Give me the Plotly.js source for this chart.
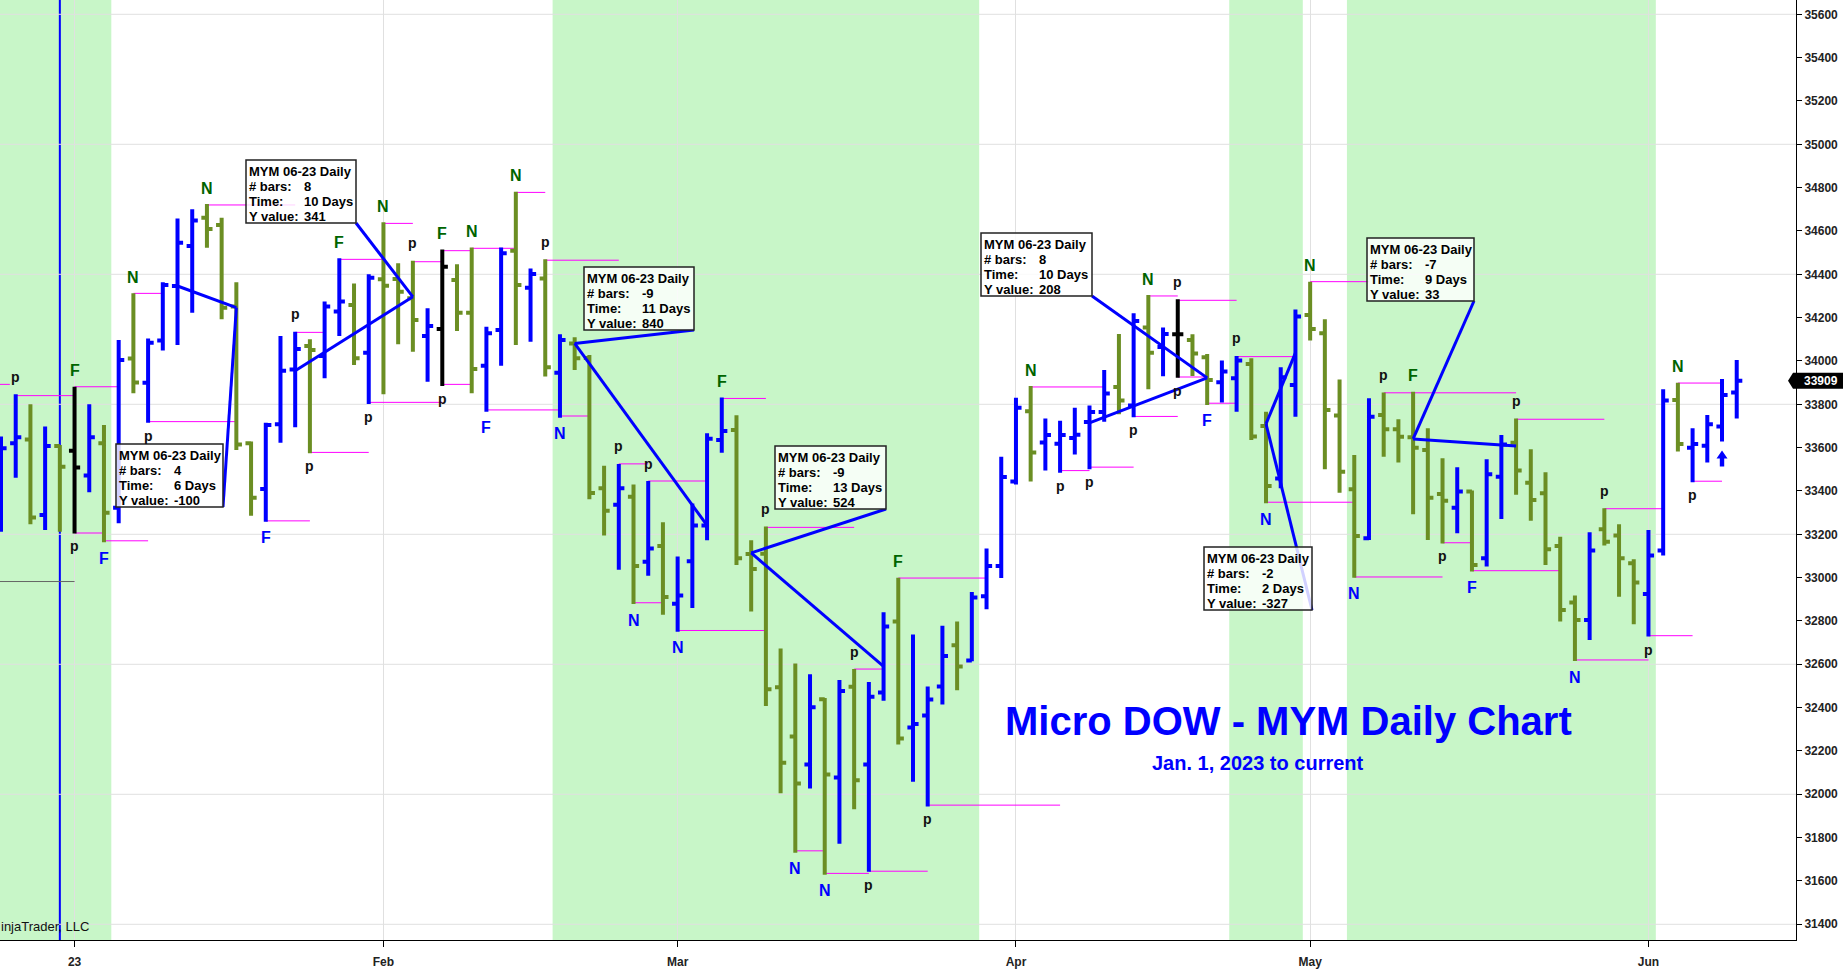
<!DOCTYPE html>
<html><head><meta charset="utf-8">
<script src="https://cdn.plot.ly/plotly-3.0.1.min.js"></script>
<style>html,body{margin:0;padding:0;background:#fff;overflow:hidden}</style>
</head><body><div id="chart" style="width:1848px;height:971px"></div>
<script>
// ---------------- DATA ----------------
// Daily bars, one per weekday (index 0 = 27 Dec 2022, index 5 = 3 Jan 2023)
const barOpen  = [33420,33620,33638,33289,33608,33586,33471,33620,33323,34011,33900,34094,34346,34531,34661,34628,34251,33620,33409,33708,
                  33961,34069,34023,34228,34258,34038,34377,34378,34289,34115,34148,34374,34223,33978,34143,34509,34338,34381,33946,34081,
                  34014,33412,33336,33373,33073,33146,32880,33076,33241,33635,33681,33109,33110,32494,32267,32138,32439,32078,32496,32137,
                  32470,32798,32308,32364,32498,32688,32618,32914,33054,33444,33768,33624,33618,33644,33718,33764,33880,33794,34154,34064,
                  34123,34097,34017,33902,33920,33986,33700,33458,33889,34212,34128,33748,33408,33182,33751,33685,33648,33589,33386,33323,
                  33397,33089,33466,33623,33438,33389,33146,32885,32805,33223,33194,33066,32925,33125,33820,33600,33609,33697,33854];
const barHigh  = [33651,33846,33800,33697,33612,33881,33800,33704,34097,34312,34104,34363,34658,34700,34724,34661,34363,33628,33715,34115,
                  34135,34100,34274,34474,34358,34400,34640,34451,34463,34243,34515,34446,34524,34158,34524,34781,34427,34469,34123,34109,
                  34028,33516,33525,33430,33446,33256,33098,33342,33666,33831,33750,33172,33236,32673,32604,32554,32444,32527,32578,32518,
                  32840,33000,32738,32498,32778,32798,32934,33134,33558,33830,33884,33734,33724,33784,33794,33958,34124,34220,34304,34154,
                  34285,34123,34032,34002,34023,34012,33766,33971,34238,34366,34192,33915,33566,33828,33854,33731,33858,33689,33551,33509,
                  33402,33546,33658,33735,33592,33486,33189,32917,33209,33320,33246,33085,33220,33869,33900,33689,33751,33917,34005];
const barLow   = [33212,33461,33246,33220,33212,33204,33394,33163,33251,33851,33715,34048,34074,34223,34523,34192,33589,33286,33258,33623,
                  33694,33574,33920,34115,33981,33801,33846,34077,34043,33904,33884,34138,33851,33766,33978,34074,34089,33928,33738,33958,
                  33362,33195,33036,32878,33009,32829,32750,32860,33173,33576,33058,32844,32408,32005,31730,32027,31629,31772,31931,31642,
                  32432,32230,32058,31944,32414,32480,32614,32854,32998,33430,33444,33494,33484,33568,33500,33720,33754,33740,33870,33930,
                  33922,33931,33797,33808,33766,33635,33343,33412,33743,34094,33500,33392,33000,33174,33558,33531,33292,33174,33158,33205,
                  33028,33051,33271,33382,33263,33058,32797,32615,32712,33148,32912,32785,32728,33102,33582,33440,33531,33628,33735];
const barClose = [33597,33648,33277,33608,33512,33508,33648,33300,34004,33901,34084,34351,34546,34648,34609,34246,33615,33369,33704,33955,
                  34055,34051,34251,34274,34012,34384,34347,34320,34189,34161,34435,34223,33963,34128,34497,34351,34401,33971,34097,34012,
                  33391,33309,33412,33054,33135,32911,32917,33241,33641,33677,33089,33040,32485,32146,32050,32402,32091,32477,32065,32450,
                  32775,32258,32324,32438,32638,32590,32908,33054,33464,33784,33578,33658,33658,33660,33764,33850,33818,34184,34038,34124,
                  34123,34035,33912,33951,34002,33651,33423,33925,34205,34148,33774,33489,33192,33743,33685,33650,33600,33369,33355,33397,
                  33058,33477,33615,33494,33358,33131,32851,32805,33125,33166,33089,32977,33102,33817,33617,33617,33708,33843,33909];
// paint-bar colour code per bar: B = blue, G = green, K = black
const barPaint = "BBGBGKBGBGBBBBGGGGBBBGBBGBGGGBKGGBBGBGBGGGBGBGBBBBGGGGGBGBGBBGBBBGBBBBGBBBBBGBGBKGGBBGGBBGGGGBGGGGGBGBBGGGGGBGGGBBGBBBB";

// month tick labels
const tickIndex  = [5, 26, 46, 69, 89, 112];
const tickLabels = ['23', 'Feb', 'Mar', 'Apr', 'May', 'Jun'];

// shaded regions (bar index ranges)
const bandStart = [-1, 37.5, 83.5, 91.5];
const bandEnd   = [7.5, 66.5, 88.5, 112.5];

// pivot (magenta) lines: start bar, end bar, price
const pivStart = [-0.1,1,5,5,7,9,10,14,18,20,21,23,25,26,28,30,30,32,33,35,37,38,42,43,44,46,49,52,54,56,58,59,61,63,70,72,74,77,78,80,80,82,84,86,89,92,94,98,100,103,107,109,112,114,115];
const pivEnd   = [0.6,5,8,7,10,11,16,20,21,22,25,26,30,28,30,32,32,35,38,37,42,40,44,45,48,52,52,58,56,59,60,63,67,72,75,74,77,80,80,84,82,84,88,92,93,98,103,100,106,109,112,113,115,117,117];
const pivPrice = [33892,33840,33881,33206,33170,34312,33720,34720,33262,34132,33578,34469,33809,34635,34458,34509,33892,34520,33774,34778,34465,33746,33525,32884,33446,32756,33827,33232,31739,31635,32578,31645,32998,31950,33880,33494,33510,33744,34300,34280,33926,33805,34020,33348,34366,33003,33853,33161,33032,33731,32620,33318,32732,33898,33445];

// swing labels: bar index, text, position (H above high, L below low)
const labelIdx  = [1,5,9,14,20,23,26,28,30,32,35,37,42,44,49,52,58,61,70,78,80,84,89,94,96,103,109,114,
                   5,7,10,18,21,25,30,33,38,43,46,54,56,59,63,72,74,77,80,82,86,92,98,100,107,112,115];
const labelText = ['p','F','N','N','p','F','N','p','F','N','N','p','p','p','F','p','p','F','N','N','p','p','N','p','F','p','p','N',
                   'p','F','p','F','p','p','p','F','N','N','N','N','N','p','p','p','p','p','p','F','N','N','p','F','N','p','p'];
const labelPos  = 'HHHHHHHHHHHHHHHHHHHHHHHHHHHHLLLLLLLLLLLLLLLLLLLLLLLLLLL';

// measurement tools: start bar/price, end bar/price, readouts
const toolStartIdx = [12, 20, 48, 60, 74, 88, 103];
const toolStartVal = [34346, 33955, 33241, 32590, 33714, 34037, 33607];
const toolEndIdx   = [16, 28, 39, 51, 82, 86, 96];
const toolEndVal   = [34246, 34296, 34081, 33114, 33922, 33710, 33640];
const toolBars     = [4, 8, -9, -9, 8, -2, -7];
const toolDays     = [6, 10, 11, 13, 10, 2, 9];
const toolYValue   = [-100, 341, 840, 524, 208, -327, 33];
const instrument   = 'MYM 06-23 Daily';

const signalIdx  = [117];     // long-entry arrow
const refLine    = {start: -1, end: 5, price: 32982};
const cursorIdx  = 4;
const lastPrice  = 33909;

// ---------------- LAYOUT HELPERS ----------------
const plotW = 1796, plotH = 940;
const xRange = [-0.068, 122.03];
const yRange = [31327.5, 35666];
const px2x = p => xRange[0] + p / plotW * (xRange[1] - xRange[0]);
const py2y = p => yRange[1] - p / plotH * (yRange[1] - yRange[0]);
const FONT = 'Liberation Sans, Arial, sans-serif';
const BLUE = '#0000ff', OLIVE = '#6b8e23', DKGREEN = '#006400';

// box placement (pixels: left, top, width)
const boxLeft = [116, 246, 584, 775, 981, 1204, 1367];
const boxTop  = [444, 160, 267, 446, 233, 547, 238];
const boxW    = [107, 110, 110, 111, 111, 108, 107];
const boxH    = 63;

// ---------------- TRACES ----------------
const paintColor = {B: BLUE, G: OLIVE, K: '#000000'};
const traces = ['B', 'G', 'K'].map(code => {
  const x = [], o = [], h = [], l = [], c = [];
  for (let i = 0; i < barOpen.length; i++) {
    x.push(i);
    const on = barPaint[i] === code;
    o.push(on ? barOpen[i] : null); h.push(on ? barHigh[i] : null);
    l.push(on ? barLow[i] : null);  c.push(on ? barClose[i] : null);
  }
  const col = paintColor[code];
  return {type: 'ohlc', x, open: o, high: h, low: l, close: c,
    increasing: {line: {color: col, width: 4}}, decreasing: {line: {color: col, width: 4}},
    tickwidth: 0.38, hoverinfo: 'skip', showlegend: false};
});

// ---------------- SHAPES ----------------
const shapes = [];
bandStart.forEach((s, k) => shapes.push({type: 'rect', xref: 'x', yref: 'paper', x0: s, x1: bandEnd[k], y0: 0, y1: 1,
  fillcolor: '#c8f6c8', line: {width: 0}, layer: 'below'}));
for (let v = 31400; v <= 35600; v += 600) shapes.push({type: 'line', xref: 'x', yref: 'y', x0: xRange[0], x1: xRange[1], y0: v, y1: v,
  line: {color: '#e0e0e0', width: 1}, layer: 'below'});
shapes.push({type: 'line', xref: 'x', yref: 'y', x0: refLine.start, x1: refLine.end, y0: refLine.price, y1: refLine.price,
  line: {color: '#666666', width: 1}, layer: 'between'});
pivStart.forEach((s, k) => shapes.push({type: 'line', xref: 'x', yref: 'y', x0: s, x1: pivEnd[k], y0: pivPrice[k], y1: pivPrice[k],
  line: {color: '#ff00ff', width: 1}, layer: 'between'}));
shapes.push({type: 'line', xref: 'x', yref: 'paper', x0: cursorIdx, x1: cursorIdx, y0: 0, y1: 1,
  line: {color: BLUE, width: 2}, layer: 'between'});
toolStartIdx.forEach((s, k) => {
  shapes.push({type: 'line', xref: 'x', yref: 'y', x0: s, y0: toolStartVal[k], x1: toolEndIdx[k], y1: toolEndVal[k],
    line: {color: BLUE, width: 3}, layer: 'above'});
  shapes.push({type: 'line', xref: 'x', yref: 'y', x0: toolEndIdx[k], y0: toolEndVal[k],
    x1: px2x(boxLeft[k] + boxW[k]), y1: py2y(boxTop[k] + boxH), line: {color: BLUE, width: 3}, layer: 'above'});
});
toolStartIdx.forEach((s, k) => shapes.push({type: 'rect', xref: 'x', yref: 'y',
  x0: px2x(boxLeft[k]), x1: px2x(boxLeft[k] + boxW[k]), y0: py2y(boxTop[k]), y1: py2y(boxTop[k] + boxH),
  fillcolor: 'rgba(255,255,255,0.82)', line: {color: '#222', width: 1.5}, layer: 'above'}));
// signal arrow (block arrow below the bar's low)
signalIdx.forEach(i => shapes.push({type: 'path', xref: 'x', yref: 'y', xsizemode: 'pixel', ysizemode: 'pixel',
  xanchor: i, yanchor: barLow[i],
  path: 'M 0 -9 L 5.5 -17 L 2.2 -17 L 2.2 -25 L -2.2 -25 L -2.2 -17 L -5.5 -17 Z',
  fillcolor: BLUE, line: {width: 0}, layer: 'above'}));
// last price tag
const lpY = (lastPrice - yRange[0]) / (yRange[1] - yRange[0]);
shapes.push({type: 'path', xref: 'paper', yref: 'paper', xsizemode: 'pixel', ysizemode: 'pixel', xanchor: 1, yanchor: lpY,
  path: 'M -8 0 L -3 8 L 47 8 L 47 -8 L -3 -8 Z', fillcolor: '#000', line: {width: 0}, layer: 'above'});

// ---------------- ANNOTATIONS ----------------
const ann = [];
labelIdx.forEach((i, k) => {
  const t = labelText[k], above = labelPos[k] === 'H';
  const isP = t === 'p';
  ann.push({x: i, y: above ? barHigh[i] : barLow[i], xref: 'x', yref: 'y', text: t, showarrow: false,
    xanchor: 'center', yanchor: 'middle',
    yshift: above ? (isP ? 17.5 : 16) : (isP ? -13 : -16),
    font: isP ? {family: FONT, size: 14, color: '#111', weight: 'bold'}
              : {family: FONT, size: 16, color: above ? DKGREEN : BLUE, weight: 'bold'}});
});
const boxFont = {family: FONT, size: 13, color: '#000', weight: 'bold'};
toolStartIdx.forEach((s, k) => {
  const bx = boxLeft[k], by = boxTop[k];
  const rows = [[instrument, null], ['# bars:', String(toolBars[k])], ['Time:', toolDays[k] + ' Days'], ['Y value:', String(toolYValue[k])]];
  rows.forEach((r, j) => {
    const yy = py2y(by + 11 + 15 * j);
    ann.push({x: px2x(bx + 2), y: yy, xref: 'x', yref: 'y', text: r[0], showarrow: false, xanchor: 'left', yanchor: 'middle', font: boxFont, borderpad: 0});
    if (r[1] !== null) ann.push({x: px2x(bx + 57), y: yy, xref: 'x', yref: 'y', text: r[1], showarrow: false, xanchor: 'left', yanchor: 'middle', font: boxFont, borderpad: 0});
  });
});
ann.push({x: px2x(1004), y: py2y(721), xref: 'x', yref: 'y', text: 'Micro DOW - MYM Daily Chart', showarrow: false,
  xanchor: 'left', yanchor: 'middle', borderpad: 0, font: {family: FONT, size: 40, color: BLUE, weight: 'bold'}});
ann.push({x: px2x(1151), y: py2y(762.5), xref: 'x', yref: 'y', text: 'Jan. 1, 2023 to current', showarrow: false,
  xanchor: 'left', yanchor: 'middle', borderpad: 0, font: {family: FONT, size: 20, color: BLUE, weight: 'bold'}});
ann.push({x: px2x(0), y: py2y(926.5), xref: 'x', yref: 'y', text: 'injaTrader, LLC', showarrow: false,
  xanchor: 'left', yanchor: 'middle', borderpad: 0, font: {family: FONT, size: 13, color: '#111'}});
ann.push({x: 1, xref: 'paper', xshift: 7, y: lastPrice, yref: 'y', text: String(lastPrice), showarrow: false,
  xanchor: 'left', yanchor: 'middle', borderpad: 0, font: {family: FONT, size: 12, color: '#fff', weight: 'bold'}});

// ---------------- LAYOUT ----------------
const layout = {
  width: 1848, height: 971,
  margin: {l: 0, r: 52, t: 0, b: 31, pad: 0},
  paper_bgcolor: '#fff', plot_bgcolor: '#fff',
  showlegend: false, dragmode: false, hovermode: false,
  font: {family: FONT},
  xaxis: {range: xRange, tickmode: 'array', tickvals: tickIndex, ticktext: tickLabels,
    ticks: 'outside', ticklen: 6, tickwidth: 1, tickcolor: '#000', ticklabelstandoff: 5,
    showline: true, linecolor: '#000', linewidth: 1, showgrid: true, gridcolor: '#e0e0e0', gridwidth: 1,
    zeroline: false, fixedrange: true, rangeslider: {visible: false},
    tickfont: {family: FONT, size: 12, color: '#222', weight: 'bold'}},
  yaxis: {side: 'right', range: yRange, tick0: 31400, dtick: 200, tickformat: 'd',
    ticks: 'outside', ticklen: 5, tickwidth: 1, tickcolor: '#000',
    showline: true, linecolor: '#000', linewidth: 1, showgrid: false, zeroline: false, fixedrange: true,
    tickfont: {family: FONT, size: 12, color: '#222', weight: 'bold'}},
  shapes: shapes,
  annotations: ann
};
Plotly.newPlot('chart', traces, layout, {displayModeBar: false, staticPlot: true});
</script>
</body></html>
